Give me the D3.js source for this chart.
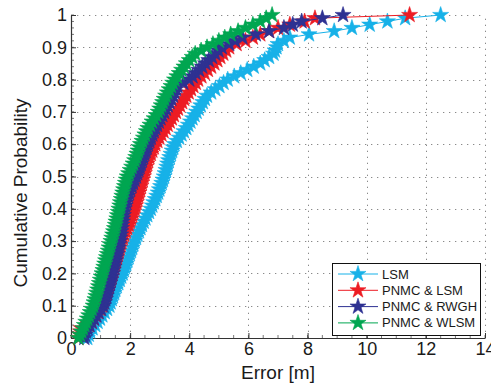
<!DOCTYPE html>
<html><head><meta charset="utf-8">
<script src="https://cdn.jsdelivr.net/npm/d3@7"></script>
<style>
body{margin:0;background:#fff}
text{font-family:"Liberation Sans",Arial,Helvetica,sans-serif;fill:#1a1a1a}
</style>
</head><body>
<svg id="c" width="491" height="386"></svg>
<script>
// ---- data (sorted error samples) ----
const seriesNames = ["LSM", "PNMC & LSM", "PNMC & RWGH", "PNMC & WLSM"];
const seriesColors = ["#17b1e8", "#ed1c24", "#2e3192", "#00a651"];

const errLSM = [0.55,0.6,0.65,0.73,0.82,0.9,0.98,1.06,1.14,1.22,1.3,1.34,1.38,1.42,1.46,1.5,1.55,1.6,1.65,1.7,1.75,
  1.79,1.83,1.87,1.91,1.95,1.99,2.03,2.07,2.11,2.15,2.2,2.25,2.3,2.35,2.4,2.46,2.52,2.58,2.64,2.7,
  2.75,2.8,2.85,2.9,2.95,2.99,3.03,3.07,3.11,3.15,3.18,3.21,3.24,3.27,3.3,3.34,3.38,3.42,3.46,3.5,
  3.58,3.66,3.74,3.82,3.9,3.97,4.04,4.11,4.18,4.25,4.32,4.39,4.46,4.53,4.6,4.74,4.88,5.02,5.16,5.3,
  5.52,5.74,5.96,6.18,6.4,6.55,6.7,6.85,6.9,6.95,7.0,7.2,7.4,8.05,8.9,9.5,10.1,10.7,11.3,12.5];

const errPnmcLSM = [0.25,0.3,0.32,0.35,0.6,0.7,0.77,0.84,0.91,0.98,1.05,1.09,1.13,1.17,1.21,1.25,1.28,1.31,1.34,1.37,1.4,
  1.43,1.46,1.49,1.52,1.55,1.58,1.61,1.64,1.67,1.7,1.75,1.8,1.85,1.9,1.95,1.99,2.03,2.07,2.11,2.15,
  2.18,2.21,2.24,2.27,2.3,2.33,2.36,2.39,2.42,2.45,2.48,2.51,2.54,2.57,2.6,2.65,2.7,2.75,2.8,2.85,
  2.92,2.99,3.06,3.13,3.2,3.27,3.34,3.41,3.48,3.55,3.62,3.69,3.76,3.83,3.9,3.98,4.06,4.14,4.22,4.3,
  4.41,4.52,4.63,4.74,4.85,4.95,5.05,5.15,5.25,5.35,5.6,5.9,6.15,6.4,6.7,7.0,7.4,7.9,8.25,11.45];

const errPnmcRWGH = [0.45,0.47,0.5,0.56,0.63,0.7,0.78,0.86,0.94,1.02,1.1,1.13,1.16,1.19,1.22,1.25,1.28,1.31,1.34,1.37,1.4,
  1.42,1.45,1.47,1.5,1.52,1.55,1.57,1.6,1.62,1.65,1.66,1.68,1.69,1.71,1.72,1.74,1.75,1.77,1.78,1.8,
  1.83,1.86,1.89,1.92,1.95,2.0,2.05,2.1,2.15,2.2,2.24,2.28,2.32,2.36,2.4,2.44,2.48,2.52,2.56,2.6,
  2.65,2.7,2.75,2.8,2.85,2.91,2.97,3.03,3.09,3.15,3.21,3.27,3.33,3.39,3.45,3.5,3.55,3.6,3.8,4.0,
  4.11,4.22,4.33,4.44,4.55,4.66,4.77,4.88,4.99,5.1,5.35,5.55,5.8,6.25,6.7,7.2,7.5,7.8,8.5,9.2];

const errPnmcWLSM = [0.25,0.3,0.35,0.4,0.45,0.5,0.55,0.6,0.65,0.7,0.75,0.78,0.81,0.84,0.87,0.9,0.93,0.96,0.99,1.02,1.05,
  1.08,1.11,1.14,1.17,1.2,1.23,1.26,1.29,1.32,1.35,1.38,1.41,1.44,1.47,1.5,1.52,1.55,1.57,1.6,1.62,
  1.65,1.67,1.7,1.72,1.75,1.78,1.81,1.84,1.87,1.9,1.95,2.0,2.05,2.1,2.15,2.19,2.23,2.27,2.31,2.35,
  2.4,2.45,2.5,2.55,2.6,2.67,2.74,2.81,2.88,2.95,3.0,3.05,3.1,3.15,3.2,3.26,3.32,3.38,3.44,3.5,
  3.58,3.66,3.74,3.82,3.9,4.0,4.1,4.2,4.4,4.6,4.8,5.0,5.2,5.4,5.65,5.9,6.15,6.4,6.6,6.8];

const xTicks = [0,2,4,6,8,10,12,14];
const yTicks = [0,0.1,0.2,0.3,0.4,0.5,0.6,0.7,0.8,0.9,1];
const yTickLabels = ["0","0.1","0.2","0.3","0.4","0.5","0.6","0.7","0.8","0.9","1"];

// ---- drawing ----
const svg = d3.select("#c");
const x = d3.scaleLinear().domain([0,14]).range([71,485]);
const y = d3.scaleLinear().domain([0,1]).range([338,15]);
const FONT = 18;

// grid
const grid = svg.append("g").attr("stroke","#8a8a8a").attr("stroke-width",1).attr("stroke-dasharray","1.3,4.7");
grid.selectAll(".gx").data(xTicks.filter(d=>d>0)).join("line")
  .attr("x1",d=>Math.round(x(d))+0.5).attr("x2",d=>Math.round(x(d))+0.5)
  .attr("y1",y(0)).attr("y2",y(1));
grid.selectAll(".gy").data(yTicks.filter(d=>d>0)).join("line")
  .attr("x1",x(0)).attr("x2",x(14))
  .attr("y1",d=>Math.round(y(d))+0.5).attr("y2",d=>Math.round(y(d))+0.5);

// minor ticks
const minorY = d3.range(0,1.0001,0.02);
svg.append("g").selectAll("line").data(minorY).join("line")
  .attr("x1",x(0)).attr("x2",x(0)+3)
  .attr("y1",d=>y(d)).attr("y2",d=>y(d)).attr("stroke","#555").attr("stroke-width",0.8);
const minorX = d3.range(0,14.0001,0.5);
svg.append("g").selectAll("line").data(minorX).join("line")
  .attr("x1",d=>x(d)).attr("x2",d=>x(d))
  .attr("y1",y(0)).attr("y2",y(0)-3).attr("stroke","#555").attr("stroke-width",0.8);

// axes
const xAxis = d3.axisBottom(x).tickValues(xTicks).tickFormat(d3.format("d"))
  .tickSizeInner(-5).tickSizeOuter(0).tickPadding(4);
const gx = svg.append("g").attr("transform",`translate(0,${y(0)})`).call(xAxis);
gx.selectAll("text").attr("font-size",FONT).attr("font-family","Liberation Sans, Arial, sans-serif").attr("fill","#1a1a1a");
gx.selectAll("line").attr("stroke","#333");
gx.select(".domain").attr("stroke","#333").attr("stroke-width",1.2);

const yAxis = d3.axisLeft(y).tickValues(yTicks).tickFormat((d,i)=>yTickLabels[i])
  .tickSizeInner(-5).tickSizeOuter(0).tickPadding(4);
const gy = svg.append("g").attr("transform",`translate(${x(0)},0)`).call(yAxis);
gy.selectAll("text").attr("font-size",FONT).attr("font-family","Liberation Sans, Arial, sans-serif").attr("fill","#1a1a1a");
gy.selectAll("line").attr("stroke","#333");
gy.select(".domain").attr("stroke","#333").attr("stroke-width",1.2);

// axis titles
svg.append("text").attr("x",(x(0)+x(14))/2).attr("y",379).attr("text-anchor","middle")
  .attr("font-size",19).text("Error [m]");
svg.append("text").attr("transform","translate(27,193) rotate(-90)").attr("text-anchor","middle")
  .attr("font-size",19).text("Cumulative Probability");

// series
const allSeries = [errLSM, errPnmcLSM, errPnmcRWGH, errPnmcWLSM];
const star = d3.symbol().type(d3.symbolStar).size(80);
const line = d3.line().x(d=>x(d[0])).y(d=>y(d[1]));
allSeries.forEach((vals,k)=>{
  const n = vals.length;
  const pts = vals.map((v,i)=>[v, i/(n-1)]);
  const g = svg.append("g");
  g.append("path").attr("d",line(pts)).attr("fill","none")
    .attr("stroke",seriesColors[k]).attr("stroke-width",1);
  g.selectAll("path.s").data(pts).join("path").attr("class","s")
    .attr("d",star).attr("transform",d=>`translate(${x(d[0])},${y(d[1])})`)
    .attr("fill",seriesColors[k]).attr("stroke",seriesColors[k]).attr("stroke-width",0.6);
});

// legend
const lg = svg.append("g");
lg.append("rect").attr("x",332.5).attr("y",263.5).attr("width",148).attr("height",72)
  .attr("fill","#fff").attr("stroke","#111").attr("stroke-width",1);
seriesNames.forEach((name,k)=>{
  const yy = 274 + k*16.3;
  lg.append("line").attr("x1",338).attr("x2",378).attr("y1",yy).attr("y2",yy)
    .attr("stroke",seriesColors[k]).attr("stroke-width",1);
  lg.append("path").attr("d",star).attr("transform",`translate(358,${yy})`)
    .attr("fill",seriesColors[k]).attr("stroke",seriesColors[k]).attr("stroke-width",0.6);
  lg.append("text").attr("x",382).attr("y",yy+4.5).attr("font-size",13).text(name);
});
</script>
</body></html>
